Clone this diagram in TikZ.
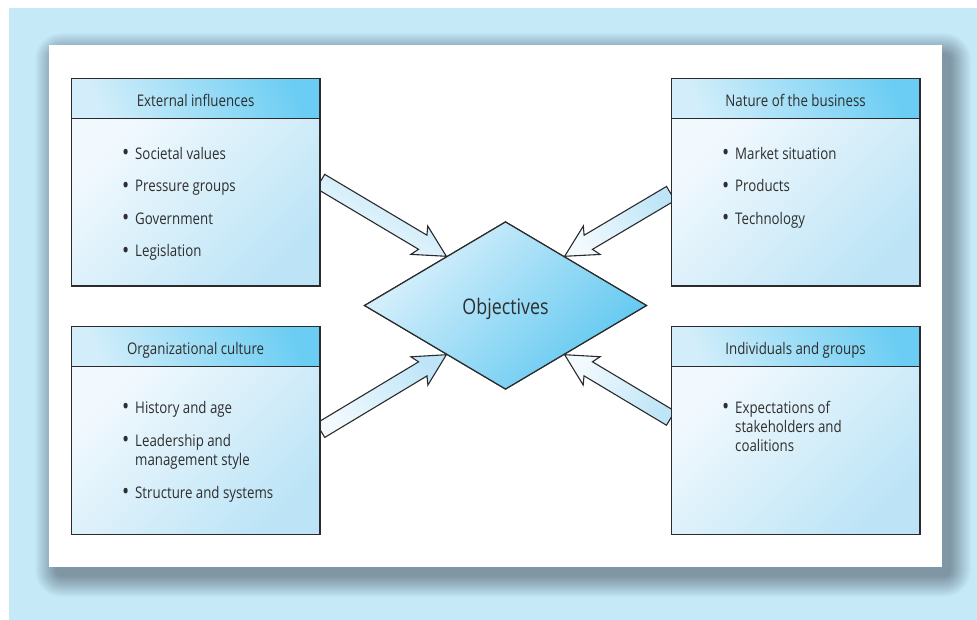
\documentclass[tikz,border=0pt]{standalone}
\usepackage{fontspec}
\setmainfont{Open Sans}[FakeStretch=0.83]
\usetikzlibrary{shapes.geometric,calc}
\definecolor{bgblue}{HTML}{C6E9F8}
\definecolor{shadowc}{HTML}{7F96A5}
\definecolor{linec}{HTML}{2B2B2B}
\definecolor{textc}{HTML}{2E2E2E}
\definecolor{hlight}{HTML}{D3EEFA}
\definecolor{hdeep}{HTML}{6BCDF3}
\definecolor{blight}{HTML}{F2F9FE}
\definecolor{bdeep}{HTML}{BCE4F6}
\definecolor{dlight}{HTML}{DDF2FC}
\definecolor{ddeep}{HTML}{5EC7F0}
\definecolor{alight}{HTML}{F3FAFE}
\definecolor{adeep}{HTML}{BDE5F7}
\newcommand\txtfont{\fontsize{16}{19.5}\selectfont}
\newcommand\bul{\llap{\raisebox{-1.6pt}{\fontsize{23}{23}\selectfont\textbullet}\hspace{6pt}}}
\tikzset{
  boxline/.style={draw=linec, line width=1.2pt},
  header/.style={boxline, top color=hdeep, bottom color=hlight, shading angle=-70,
    minimum width=248.6pt, minimum height=40pt, anchor=north west, inner sep=0pt,
    text height=16.6pt, text depth=0pt, font=\txtfont, text=textc},
  body/.style={boxline, top color=blight, bottom color=bdeep, shading angle=45,
    minimum width=248.6pt, minimum height=167.8pt, anchor=north west, inner sep=0pt},
  item/.style={anchor=base west, inner sep=0pt, font=\txtfont, text=textc},
  objective/.style={diamond, boxline, top color=dlight, bottom color=ddeep, shading angle=45,
    minimum width=282.4pt, minimum height=167.6pt, inner sep=0pt,
    text height=19pt, text depth=0pt, font=\fontsize{21.5}{24}\selectfont, text=textc},
  arrowc/.style={draw=linec, line width=1.1pt, line join=miter, top color=adeep, bottom color=alight}
}
\newcommand\blockarrow[3]{%
  \coordinate (#1-j) at ($(#2)!27.5pt!(#1)$);
  \coordinate (#1-b) at ($(#2)!31.5pt!(#1)$);
  \path[arrowc, shading angle=#3] ($(#1)!8.2pt!90:(#2)$) -- ($(#1-j)!8.2pt!90:(#2)$)
    -- ($(#1-b)!16.5pt!90:(#2)$) -- (#2) -- ($(#1-b)!16.5pt!-90:(#2)$)
    -- ($(#1-j)!8.2pt!-90:(#2)$) -- ($(#1)!8.2pt!-90:(#2)$) -- cycle;
}
\begin{document}
\begin{tikzpicture}[x=1pt,y=-1pt]
\useasboundingbox (0,0) rectangle (977,620);
\fill[white] (0,0) rectangle (977,620);
\fill[bgblue] (9,8) rectangle (977,620);
% shadow of the panel
\foreach \k in {1,...,22}{
  \pgfmathsetmacro\op{1/(23-\k)}
  \pgfmathsetmacro\ex{22-\k}
  \pgfmathsetmacro\rc{\ex+6}
  \fill[shadowc, fill opacity=\op, rounded corners=\rc pt] ({56-\ex},{54-\ex}) rectangle ({950+\ex},{576+\ex});
}
\fill[white] (49,45) rectangle (942,567);

% objectives diamond
\node[objective] (obj) at (505.5,305.5) {Objectives};

% boxes (positions only, drawn after arrows)
\path (70.7,117.7) coordinate (ext-pos) (70.7,365.7) coordinate (org-pos)
      (670.7,117.7) coordinate (nat-pos) (670.7,365.7) coordinate (ind-pos);
\node[body] (ext-b) at (ext-pos) {};
\node[body] (org-b) at (org-pos) {};
\node[body] (nat-b) at (nat-pos) {};
\node[body] (ind-b) at (ind-pos) {};

% arrow ends
\coordinate (tl-s) at ($(ext-b.east)+(0,-20.8)$);
\coordinate (tr-s) at ($(nat-b.west)+(0,-8.7)$);
\coordinate (bl-s) at ($(org-b.east)+(0,-19.8)$);
\coordinate (br-s) at ($(ind-b.west)+(0,-32)$);
\coordinate (tl-t) at ($(obj.west)!0.583!(obj.north)$);
\coordinate (tr-t) at ($(obj.east)!0.583!(obj.north)$);
\coordinate (bl-t) at ($(obj.west)!0.583!(obj.south)$);
\coordinate (br-t) at ($(obj.east)!0.583!(obj.south)$);
\blockarrow{tl-s}{tl-t}{-30}
\blockarrow{tr-s}{tr-t}{-60}
\blockarrow{bl-s}{bl-t}{-60}
\blockarrow{br-s}{br-t}{-120}

% redraw boxes on top of arrow tails
\node[body] at (ext-pos) {};
\node[body] at (org-pos) {};
\node[body] at (nat-pos) {};
\node[body] at (ind-pos) {};
\node[objective] at (505.5,305.5) {Objectives};

\node[header] (ext-h) at (70.7,77.7) {External influences};
\node[header] (org-h) at (70.7,325.7) {Organizational culture};
\node[header] (nat-h) at (670.7,77.7) {Nature of the business};
\node[header] (ind-h) at (670.7,325.7) {Individuals and groups};

% items
\node[item] (ext-1) at (135,159.3) {\bul Societal values};
\node[item] (ext-2) at (135,191.8) {\bul Pressure groups};
\node[item] (ext-3) at (135,224.3) {\bul Government};
\node[item] (ext-4) at (135,256.8) {\bul Legislation};

\node[item] (org-1) at (135,413.3) {\bul History and age};
\node[item] (org-2) at (135,446) {\bul Leadership and};
\node[item] (org-2b) at (135,465.3) {management style};
\node[item] (org-3) at (135,498.3) {\bul Structure and systems};

\node[item] (nat-1) at (735,159.3) {\bul Market situation};
\node[item] (nat-2) at (735,191.8) {\bul Products};
\node[item] (nat-3) at (735,224.3) {\bul Technology};

\node[item] (ind-1) at (735,413.3) {\bul Expectations of};
\node[item] (ind-1b) at (735,432.7) {stakeholders and};
\node[item] (ind-1c) at (735,451.7) {coalitions};
\end{tikzpicture}
\end{document}
